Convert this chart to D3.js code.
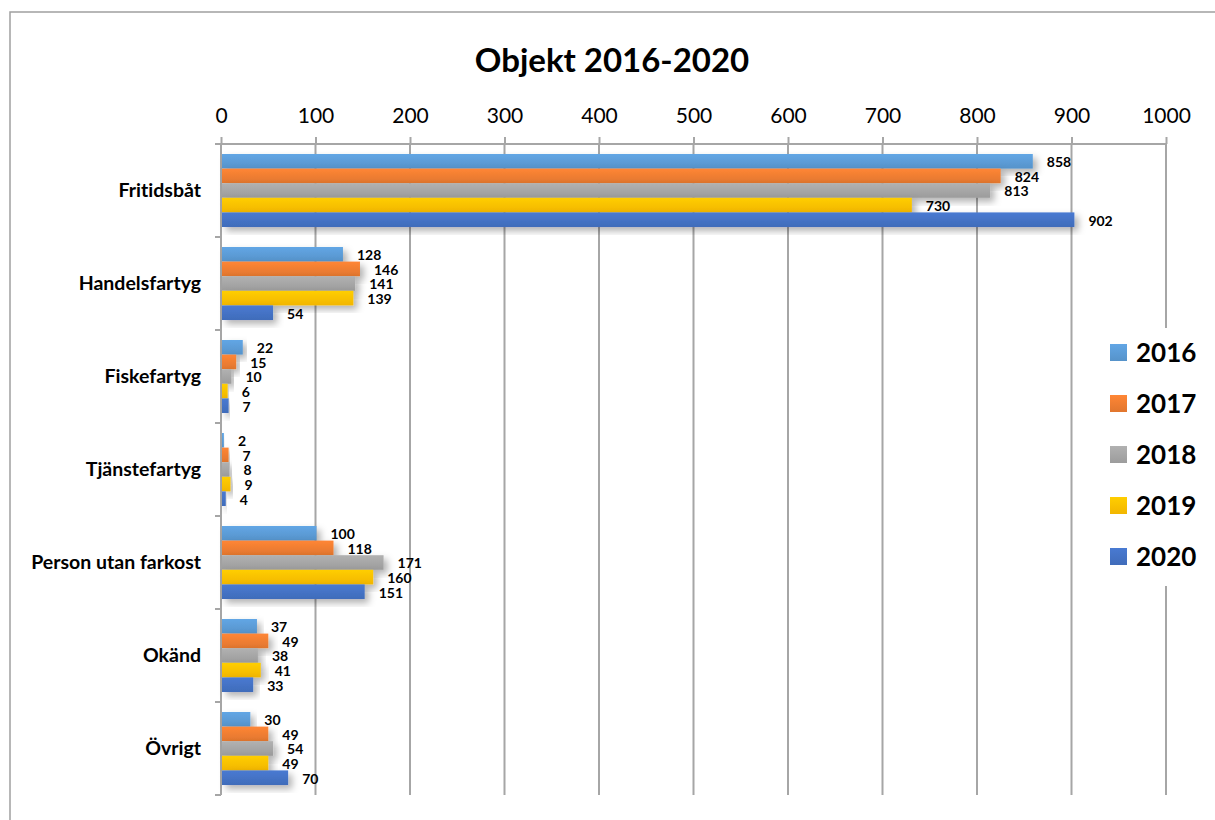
<!DOCTYPE html>
<html>
<head>
<meta charset="utf-8">
<script src="https://cdn.jsdelivr.net/npm/d3@7"></script>
<style>
  body { margin: 0; background: #fff; }
  svg { display: block; font-family: Lato, "Open Sans", sans-serif; font-variant-ligatures: none; }
</style>
</head>
<body>
<svg id="chart" width="1215" height="820"></svg>
<script>
// chart data
const categories = ['Fritidsbåt', 'Handelsfartyg', 'Fiskefartyg', 'Tjänstefartyg', 'Person utan farkost', 'Okänd', 'Övrigt'];
const years = ['2016', '2017', '2018', '2019', '2020'];
const values2016 = [858, 128, 22, 2, 100, 37, 30];
const values2017 = [824, 146, 15, 7, 118, 49, 49];
const values2018 = [813, 141, 10, 8, 171, 38, 54];
const values2019 = [730, 139, 6, 9, 160, 41, 49];
const values2020 = [902, 54, 7, 4, 151, 33, 70];
const xTicks = [0, 100, 200, 300, 400, 500, 600, 700, 800, 900, 1000];
const colors = ['#5B9BD5', '#ED7D31', '#A5A5A5', '#FFC000', '#4472C4'];

const series = [values2016, values2017, values2018, values2019, values2020];

const svg = d3.select('#chart');
const plotTop = 144, plotBottom = 795, plotLeft = 221, plotRight = 1166;

// outer border
svg.append('rect')
  .attr('x', 10).attr('y', 12)
  .attr('width', 1230).attr('height', 830)
  .attr('fill', 'none')
  .attr('stroke', '#A0A0A0')
  .attr('stroke-width', 1.5);

// gradients + shadow
const defs = svg.append('defs');
colors.forEach((c, i) => {
  const g = defs.append('linearGradient')
    .attr('id', 'grad' + i)
    .attr('x1', 0).attr('y1', 0).attr('x2', 0).attr('y2', 1);
  g.append('stop').attr('offset', '0%').attr('stop-color', d3.color(c).brighter(0.2));
  g.append('stop').attr('offset', '100%').attr('stop-color', d3.color(c).darker(0.15));
});
const shadow = defs.append('filter')
  .attr('id', 'shadow')
  .attr('x', '-10%').attr('y', '-30%')
  .attr('width', '130%').attr('height', '180%');
shadow.append('feDropShadow')
  .attr('dx', 4).attr('dy', 4)
  .attr('stdDeviation', 3.5)
  .attr('flood-color', '#000')
  .attr('flood-opacity', 0.3);

// scales
const x = d3.scaleLinear().domain([0, 1000]).range([plotLeft, plotRight]);
const y0 = d3.scaleBand()
  .domain(categories)
  .range([plotTop, plotBottom])
  .paddingInner(0.215)
  .paddingOuter(0.1075);
const y1 = d3.scaleBand().domain(years).range([0, y0.bandwidth()]);

// title
svg.append('text')
  .attr('x', 612).attr('y', 72)
  .attr('text-anchor', 'middle')
  .attr('font-size', 33)
  .attr('font-weight', 'bold')
  .text('Objekt 2016-2020');

// vertical gridlines
svg.append('g')
  .selectAll('line')
  .data(xTicks.slice(1))
  .enter()
  .append('line')
  .attr('x1', d => x(d)).attr('x2', d => x(d))
  .attr('y1', plotTop).attr('y2', plotBottom)
  .attr('stroke', '#A6A6A6')
  .attr('stroke-width', 2);

// top axis
const xAxis = svg.append('g')
  .attr('transform', `translate(0, ${plotTop})`)
  .call(d3.axisTop(x).tickValues(xTicks).tickFormat(d3.format('d'))
    .tickSize(7).tickPadding(14).tickSizeOuter(0));
xAxis.select('.domain')
  .attr('d', `M${plotLeft - 5},0H${plotRight}`)
  .attr('stroke', '#A6A6A6')
  .attr('stroke-width', 2);
xAxis.selectAll('.tick line').attr('stroke', '#A6A6A6').attr('stroke-width', 2);
xAxis.selectAll('.tick text')
  .attr('font-size', 21)
  .attr('font-family', 'Lato, sans-serif')
  .attr('fill', '#000');

// category axis
const step = y0.step();
const bounds = categories.map(c => y0(c) - step * y0.paddingInner() / 2);
bounds.push(plotBottom);
const catAxis = svg.append('g');
catAxis.append('line')
  .attr('x1', plotLeft).attr('x2', plotLeft)
  .attr('y1', plotTop).attr('y2', plotBottom)
  .attr('stroke', '#A6A6A6').attr('stroke-width', 2);
catAxis.selectAll('.ctick')
  .data(bounds)
  .enter()
  .append('line')
  .attr('class', 'ctick')
  .attr('x1', plotLeft - 6).attr('x2', plotLeft)
  .attr('y1', d => d).attr('y2', d => d)
  .attr('stroke', '#A6A6A6').attr('stroke-width', 2);
catAxis.selectAll('.clabel')
  .data(categories)
  .enter()
  .append('text')
  .attr('class', 'clabel')
  .attr('x', 201)
  .attr('y', d => y0(d) + y0.bandwidth() / 2)
  .attr('dy', '0.35em')
  .attr('text-anchor', 'end')
  .attr('font-size', 19.5)
  .attr('font-weight', 'bold')
  .text(d => d);

// bars
const groups = svg.append('g')
  .selectAll('g')
  .data(categories)
  .enter()
  .append('g')
  .attr('transform', d => `translate(0, ${y0(d)})`);

groups.selectAll('rect')
  .data((c, ci) => years.map((yr, si) => ({ yr, si, v: series[si][ci] })))
  .enter()
  .append('rect')
  .attr('x', x(0) + 1)
  .attr('y', d => y1(d.yr))
  .attr('width', d => Math.max(x(d.v) - x(0), 1))
  .attr('height', y1.bandwidth())
  .attr('fill', d => `url(#grad${d.si})`)
  .attr('filter', 'url(#shadow)');

groups.selectAll('.vlabel')
  .data((c, ci) => years.map((yr, si) => ({ yr, si, v: series[si][ci] })))
  .enter()
  .append('text')
  .attr('class', 'vlabel')
  .attr('x', d => x(d.v) + 15)
  .attr('y', d => y1(d.yr) + y1.bandwidth() / 2 + 6)
  .attr('font-size', 14)
  .attr('font-weight', 'bold')
  .text(d => d.v);

// legend
const legend = svg.append('g');
legend.append('rect')
  .attr('x', 1100).attr('y', 328)
  .attr('width', 112).attr('height', 258)
  .attr('fill', '#fff');
const legendY = d3.scalePoint().domain(years).range([353, 557]);
const items = legend.selectAll('.item')
  .data(years)
  .enter()
  .append('g')
  .attr('class', 'item')
  .attr('transform', d => `translate(1110, ${legendY(d)})`);
items.append('rect')
  .attr('x', 0).attr('y', -9)
  .attr('width', 17).attr('height', 17)
  .attr('fill', (d, i) => `url(#grad${i})`);
items.append('text')
  .attr('x', 26)
  .attr('dy', '0.36em')
  .attr('font-size', 26)
  .attr('font-weight', 'bold')
  .text(d => d);
</script>
</body>
</html>
